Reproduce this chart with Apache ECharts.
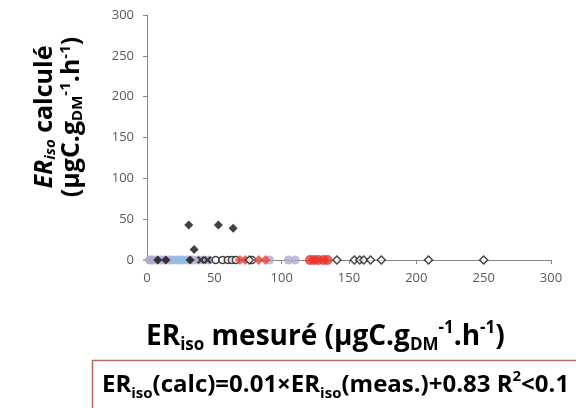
<!DOCTYPE html>
<html>
<head>
<meta charset="utf-8">
<script src="https://cdn.jsdelivr.net/npm/echarts@6/dist/echarts.min.js"></script>
<style>html,body{margin:0;padding:0;background:#fff}#c{width:576px;height:408px}</style>
</head>
<body>
<div id="c"></div>
<script>
// Tick labels
var xTicks = [0, 50, 100, 150, 200, 250, 300];
var yTicks = [0, 50, 100, 150, 200, 250, 300];
// Series values (ER_iso measured, ER_iso calculated)
var greenX = [0];
var greenY = [0];
var lavenderX = [2, 4, 7, 10, 13, 16, 19, 23, 26, 30, 34, 38, 42, 46, 91, 105, 110];
var lavenderY = [0, 0, 0, 0, 0, 0, 0, 0, 0, 0, 0, 0, 0, 0, 0, 0, 0];
var blueX = [20, 24, 27];
var blueY = [0, 0, 0];
var crossX = [40, 45];
var crossY = [0, 0];
var blackDiamondX = [8, 14, 32, 35, 31, 53, 64];
var blackDiamondY = [0, 0, 0, 13, 43, 43, 39];
var openCircleX = [51, 56, 60, 63, 66, 78];
var openCircleY = [0, 0, 0, 0, 0, 0];
var redDiamondX = [69, 73, 83, 88];
var redDiamondY = [0, 0, 0, 0];
var redCircleX = [121, 124, 127, 131, 134];
var redCircleY = [0, 0, 0, 0, 0];
var openDiamondX = [76, 141, 154, 158, 161, 166, 174, 209, 250];
var openDiamondY = [0, 0, 0, 0, 0, 0, 0, 0, 0];

function pairs(xs, ys) { return xs.map(function (x, i) { return [x, ys[i]]; }); }

var FONT = '"Open Sans", Lato, sans-serif';
var crossPath = 'path://M0,2L2,0L5,3L8,0L10,2L7,5L10,8L8,10L5,7L2,10L0,8L3,5Z';

function richSet(main, sub, color, lh) {
  var base = {fontWeight: 'bold', fontFamily: FONT, color: color, lineHeight: lh};
  function m(o) { return Object.assign({}, base, o); }
  return {
    i: m({fontSize: main, fontStyle: 'italic', verticalAlign: 'middle'}),
    is: m({fontSize: sub, fontStyle: 'italic', verticalAlign: 'bottom'}),
    b: m({fontSize: main, verticalAlign: 'middle'}),
    s: m({fontSize: sub, verticalAlign: 'bottom'}),
    p: m({fontSize: sub, verticalAlign: 'top'})
  };
}

var chart = echarts.init(document.getElementById('c'), null, {renderer: 'canvas'});
chart.setOption({
  animation: false,
  backgroundColor: '#ffffff',
  grid: {left: 147, right: 25, top: 15, bottom: 148, containLabel: false},
  xAxis: {
    type: 'value', min: xTicks[0], max: xTicks[xTicks.length - 1], interval: 50,
    axisLine: {show: true, lineStyle: {color: '#8c8580', width: 1}},
    axisTick: {show: true, length: 4, lineStyle: {color: '#8c8580'}},
    splitLine: {show: false},
    axisLabel: {color: '#595959', fontSize: 13, fontFamily: FONT, margin: 12}
  },
  yAxis: {
    type: 'value', min: yTicks[0], max: yTicks[yTicks.length - 1], interval: 50,
    axisLine: {show: true, lineStyle: {color: '#8c8580', width: 1}},
    axisTick: {show: true, length: 4, lineStyle: {color: '#8c8580'}},
    splitLine: {show: false},
    axisLabel: {color: '#595959', fontSize: 13, fontFamily: FONT, margin: 13}
  },
  series: [
    {type: 'scatter', data: pairs(greenX, greenY), symbol: 'triangle', symbolRotate: 90, symbolSize: 9,
     itemStyle: {color: '#9bbb59'}},
    {type: 'scatter', data: pairs(lavenderX, lavenderY), symbol: 'circle', symbolSize: 9,
     itemStyle: {color: '#b4a7d0'}},
    {type: 'scatter', data: pairs(blueX, blueY), symbol: 'circle', symbolSize: 8,
     itemStyle: {color: '#8fc1e6'}},
    {type: 'scatter', data: pairs(crossX, crossY), symbol: crossPath, symbolSize: 8,
     itemStyle: {color: '#1a1a1a'}},
    {type: 'scatter', data: pairs(openCircleX, openCircleY), symbol: 'circle', symbolSize: 7,
     itemStyle: {color: '#ffffff', borderColor: '#1a1a1a', borderWidth: 1.5}},
    {type: 'scatter', data: pairs(redDiamondX, redDiamondY), symbol: 'diamond', symbolSize: 10,
     itemStyle: {color: '#e8453a'}},
    {type: 'scatter', data: pairs(redCircleX, redCircleY), symbol: 'circle', symbolSize: 10,
     itemStyle: {color: '#e8332a'}},
    {type: 'scatter', data: pairs(openDiamondX, openDiamondY), symbol: 'diamond', symbolSize: 8,
     itemStyle: {color: '#ffffff', borderColor: '#1a1a1a', borderWidth: 1.5}},
    {type: 'scatter', data: pairs(blackDiamondX, blackDiamondY), symbol: 'diamond', symbolSize: 9,
     itemStyle: {color: '#111111'}}
  ],
  graphic: [
    {
      type: 'text', rotation: Math.PI / 2, z: 10,
      x: 58, y: 117,
      style: {
        x: 0, y: 0, align: 'center', verticalAlign: 'middle',
        text: '{i|ER}{is|iso}{b| calculé}\n{b|(µgC.g}{s|DM}{p|-1}{b|.h}{p|-1}{b|)}',
        rich: richSet(25, 15, '#111', 27)
      }
    },
    {
      type: 'text', x: 146, y: 337, z: 10,
      style: {
        x: 0, y: 0, align: 'left', verticalAlign: 'middle',
        text: '{b|ER}{s|iso}{b| mesuré (µgC.g}{s|DM}{p|-1}{b|.h}{p|-1}{b|)}',
        rich: richSet(28, 17, '#111', 34)
      }
    },
    {
      type: 'rect', z: 5,
      shape: {x: 92.5, y: 360.5, width: 500, height: 80},
      style: {fill: 'none', stroke: '#b86a60', lineWidth: 1.5}
    },
    {
      type: 'text', x: 102, y: 385, z: 10,
      style: {
        x: 0, y: 0, align: 'left', verticalAlign: 'middle',
        text: '{b|ER}{s|iso}{b|(calc)=0.01×ER}{s|iso}{b|(meas.)+0.83 R}{p|2}{b|<0.1}',
        rich: richSet(24, 15, '#a8362f', 32)
      }
    }
  ]
});
</script>
</body>
</html>
